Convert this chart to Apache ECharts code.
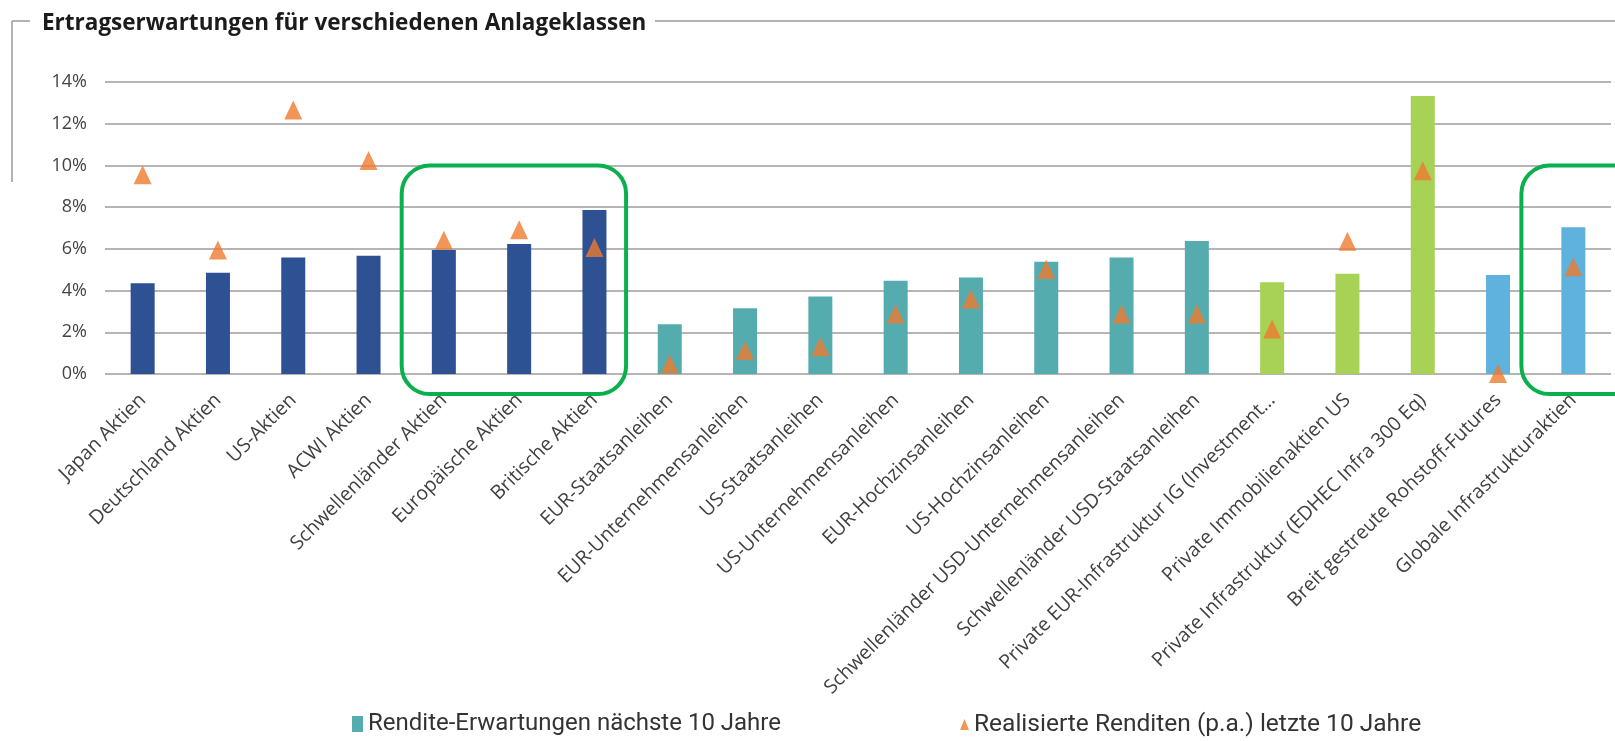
<!DOCTYPE html>
<html lang="de">
<head>
    <meta charset="utf-8" />
    <script src="https://cdn.jsdelivr.net/npm/echarts@6/dist/echarts.min.js"></script>
    <title>ertragserwartungen</title>
    <style>
        html, body { margin: 0; padding: 0; background: #fff; }
    </style>
</head>

<body>
<div id="main" style="width:1615px; height:741px;"></div>
<script type="text/javascript">
    // Anlageklassen (x-Achse)
    const categories = [
        'Japan Aktien', 'Deutschland Aktien', 'US-Aktien', 'ACWI Aktien',
        'Schwellenländer Aktien', 'Europäische Aktien', 'Britische Aktien',
        'EUR-Staatsanleihen', 'EUR-Unternehmensanleihen', 'US-Staatsanleihen',
        'US-Unternehmensanleihen', 'EUR-Hochzinsanleihen', 'US-Hochzinsanleihen',
        'Schwellenländer USD-Unternehmensanleihen', 'Schwellenländer USD-Staatsanleihen',
        'Private EUR-Infrastruktur IG (Investment…', 'Private Immobilienaktien US',
        'Private Infrastruktur (EDHEC Infra 300 Eq)', 'Breit gestreute Rohstoff-Futures',
        'Globale Infrastrukturaktien'
    ];
    // Gruppe je Anlageklasse (bestimmt die Balkenfarbe)
    const groups = [
        'aktien', 'aktien', 'aktien', 'aktien', 'aktien', 'aktien', 'aktien',
        'anleihen', 'anleihen', 'anleihen', 'anleihen', 'anleihen', 'anleihen', 'anleihen', 'anleihen',
        'privat', 'privat', 'privat',
        'sonstige', 'sonstige'
    ];
    // Rendite-Erwartungen nächste 10 Jahre (%)
    const expected = [4.35, 4.86, 5.58, 5.67, 5.94, 6.23, 7.86, 2.38, 3.15, 3.71,
                      4.47, 4.63, 5.38, 5.58, 6.38, 4.40, 4.81, 13.33, 4.75, 7.03];
    // Realisierte Renditen (p.a.) letzte 10 Jahre (%)
    const realised = [9.55, 5.94, 12.66, 10.24, 6.41, 6.92, 6.07, 0.48, 1.13, 1.31,
                      2.88, 3.59, 5.01, 2.88, 2.88, 2.16, 6.36, 9.74, 0.02, 5.14];
    // y-Achse
    const yTicks = [0, 2, 4, 6, 8, 10, 12, 14];
    // markierte Bereiche (erste und letzte Kategorie)
    const highlights = [[4, 6], [19, 19]];

    const seriesNames = ['Rendite-Erwartungen nächste 10 Jahre', 'Realisierte Renditen (p.a.) letzte 10 Jahre'];
    const groupColors = {
        aktien: '#2d5192',
        anleihen: '#55acae',
        privat: '#a8d255',
        sonstige: '#5eb2dd'
    };

    let myChart = echarts.init(document.getElementById('main'));

    option = {
        animation: false,
        backgroundColor: '#fff',
        textStyle: { fontFamily: '"Open Sans", sans-serif' },
        title: {
            text: 'Ertragserwartungen für verschiedenen Anlageklassen',
            left: 37,
            top: 7,
            textStyle: {
                fontFamily: '"Open Sans", sans-serif',
                fontSize: 22.5,
                fontWeight: 'bold',
                color: '#1b1b1b'
            }
        },
        legend: [{
            data: [seriesNames[0]],
            left: 342,
            top: 692,
            padding: [20, 12, 6, 10],
            backgroundColor: '#fff',
            icon: 'rect',
            itemWidth: 11,
            itemHeight: 16,
            itemGap: 6,
            textStyle: { fontFamily: 'Roboto, sans-serif', fontSize: 24, color: '#333' }
        }, {
            data: [seriesNames[1]],
            left: 950,
            top: 692,
            padding: [20, 12, 6, 10],
            backgroundColor: '#fff',
            icon: 'triangle',
            itemWidth: 9,
            itemHeight: 11,
            itemGap: 6,
            textStyle: { fontFamily: 'Roboto, sans-serif', fontSize: 24.5, color: '#333' }
        }],
        grid: {
            left: 105,
            right: 4,
            top: 82,
            bottom: 367
        },
        xAxis: {
            type: 'category',
            data: categories,
            axisLine: { show: false },
            axisTick: { show: false },
            axisLabel: {
                rotate: 45,
                interval: 0,
                margin: 23,
                fontSize: 19.5,
                color: '#404040',
                fontFamily: '"Open Sans", sans-serif'
            }
        },
        yAxis: {
            type: 'value',
            min: 0,
            max: yTicks[yTicks.length - 1],
            interval: yTicks[1] - yTicks[0],
            axisLabel: {
                formatter: '{value}%',
                fontSize: 18,
                margin: 18,
                color: '#444',
                fontFamily: '"Open Sans", sans-serif'
            },
            splitLine: {
                lineStyle: { color: '#b9b4b4', width: 2 }
            }
        },
        series: [{
            name: seriesNames[0],
            type: 'bar',
            barWidth: 24,
            itemStyle: { color: groupColors.anleihen },
            data: expected.map(function (v, i) {
                return { value: v, itemStyle: { color: groupColors[groups[i]] } };
            }),
            z: 2
        }, {
            name: seriesNames[1],
            type: 'scatter',
            symbol: 'triangle',
            symbolSize: [18, 19],
            itemStyle: { color: '#ed7a30' },
            data: realised,
            z: 3
        }]
    };
    myChart.setOption(option);

    // Rahmenlinien und grüne Markierungen
    let graphics = [
        { type: 'line', shape: { x1: 12, y1: 21, x2: 30, y2: 21 }, style: { stroke: '#9a9a9a', lineWidth: 1.5 } },
        { type: 'line', shape: { x1: 655, y1: 21, x2: 1615, y2: 21 }, style: { stroke: '#9a9a9a', lineWidth: 1.5 } },
        { type: 'line', shape: { x1: 12, y1: 21, x2: 12, y2: 182 }, style: { stroke: '#9a9a9a', lineWidth: 1.5 } }
    ];
    const step = myChart.convertToPixel({ xAxisIndex: 0 }, categories[1]) - myChart.convertToPixel({ xAxisIndex: 0 }, categories[0]);
    const yTop = myChart.convertToPixel({ yAxisIndex: 0 }, 10);
    const yZero = myChart.convertToPixel({ yAxisIndex: 0 }, 0);
    highlights.forEach(function (h) {
        let x1 = myChart.convertToPixel({ xAxisIndex: 0 }, categories[h[0]]) - step * (h[0] === h[1] ? 0.69 : 0.56);
        let x2 = h[0] === h[1] ? 1660 : myChart.convertToPixel({ xAxisIndex: 0 }, categories[h[1]]) + step * 0.42;
        graphics.push({
            type: 'rect',
            shape: { x: x1, y: yTop, width: x2 - x1, height: yZero - yTop + 20, r: 28 },
            style: { fill: 'none', stroke: '#0bb04e', lineWidth: 4 },
            z: 10
        });
    });
    myChart.setOption({ graphic: graphics });
</script>
</body>
</html>
